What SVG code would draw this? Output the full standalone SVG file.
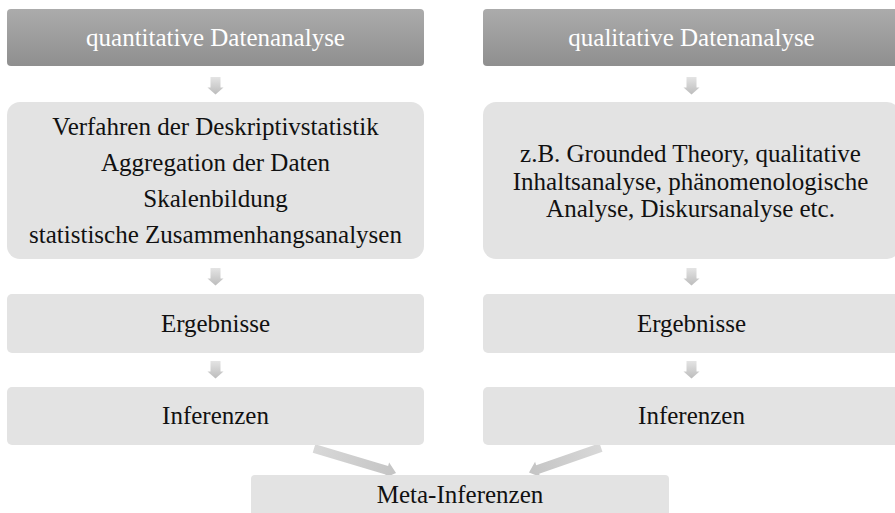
<svg xmlns="http://www.w3.org/2000/svg" width="895" height="513" viewBox="0 0 895 513">
  <defs>
    <linearGradient id="hdrGrad" x1="0" y1="0" x2="0" y2="1">
      <stop offset="0" stop-color="#ababab"/>
      <stop offset="1" stop-color="#8f8f8f"/>
    </linearGradient>
    <linearGradient id="arrGrad" x1="0" y1="0" x2="0" y2="1">
      <stop offset="0" stop-color="#e4e4e4"/>
      <stop offset="1" stop-color="#bcbcbc"/>
    </linearGradient>
    <linearGradient id="diagGrad" x1="0" y1="0" x2="1" y2="0">
      <stop offset="0" stop-color="#d8d8d8"/>
      <stop offset="1" stop-color="#c4c4c4"/>
    </linearGradient>
    <polygon id="down" points="-5,0 5,0 5,10.5 8,10.5 0,17.5 -8,10.5 -5,10.5"/>
  </defs>
  <style>
    .hdr { fill: url(#hdrGrad); }
    .box { fill: #e3e3e3; }
    .t { font-size: 25px; text-anchor: middle; fill: #111111; }
    .th { font-size: 25px; text-anchor: middle; fill: #ffffff; }
    .arr { fill: url(#arrGrad); }
    .diag { fill: url(#diagGrad); }
  </style>

  <rect width="895" height="513" fill="#ffffff"/>

  <!-- connectors -->
  <g id="connectors">
    <use href="#down" class="arr" x="215.5" y="77"/>
    <use href="#down" class="arr" x="215.5" y="268"/>
    <use href="#down" class="arr" x="215.5" y="361"/>
    <use href="#down" class="arr" x="691.5" y="77"/>
    <use href="#down" class="arr" x="691.5" y="268"/>
    <use href="#down" class="arr" x="691.5" y="361"/>
    <g transform="translate(314,448.5) rotate(16.6)">
      <polygon class="diag" points="0,-4.5 76,-4.5 76,-8 85.6,0 76,8 76,4.5 0,4.5"/>
    </g>
    <g transform="translate(601,447.5) rotate(160.9)">
      <polygon class="diag" points="0,-4.5 67,-4.5 67,-8 76.2,0 67,8 67,4.5 0,4.5"/>
    </g>
  </g>

  <g font-family="Liberation Serif, Tinos, DejaVu Serif, serif">
  <!-- left column: quantitative -->
  <g id="quant-header">
    <rect class="hdr" x="7" y="9" width="417" height="57" rx="4"/>
    <text class="th" x="215.5" y="46">quantitative Datenanalyse</text>
  </g>
  <g id="quant-methods">
    <rect class="box" x="7" y="102" width="417" height="157" rx="13"/>
    <text class="t" x="215.5" y="135">Verfahren der Deskriptivstatistik</text>
    <text class="t" x="215.5" y="171">Aggregation der Daten</text>
    <text class="t" x="215.5" y="207">Skalenbildung</text>
    <text class="t" x="215.5" y="243">statistische Zusammenhangsanalysen</text>
  </g>
  <g id="quant-results">
    <rect class="box" x="7" y="294" width="417" height="59" rx="5"/>
    <text class="t" x="215.5" y="332">Ergebnisse</text>
  </g>
  <g id="quant-inferences">
    <rect class="box" x="7" y="387" width="417" height="58" rx="5"/>
    <text class="t" x="215.5" y="424">Inferenzen</text>
  </g>

  <!-- right column: qualitative -->
  <g id="qual-header">
    <rect class="hdr" x="483" y="9" width="417" height="57" rx="4"/>
    <text class="th" x="691.5" y="46">qualitative Datenanalyse</text>
  </g>
  <g id="qual-methods">
    <rect class="box" x="483" y="102" width="417" height="157" rx="13"/>
    <text class="t" x="690.5" y="162">z.B. Grounded Theory, qualitative</text>
    <text class="t" x="690.5" y="189.5">Inhaltsanalyse, phänomenologische</text>
    <text class="t" x="690.5" y="217">Analyse, Diskursanalyse etc.</text>
  </g>
  <g id="qual-results">
    <rect class="box" x="483" y="294" width="417" height="59" rx="5"/>
    <text class="t" x="691.5" y="332">Ergebnisse</text>
  </g>
  <g id="qual-inferences">
    <rect class="box" x="483" y="387" width="417" height="58" rx="5"/>
    <text class="t" x="691.5" y="424">Inferenzen</text>
  </g>

  <!-- combined -->
  <g id="meta-inferences">
    <rect class="box" x="251" y="475" width="418" height="58" rx="4"/>
    <text class="t" x="460" y="503">Meta-Inferenzen</text>
  </g>
  </g>
</svg>
